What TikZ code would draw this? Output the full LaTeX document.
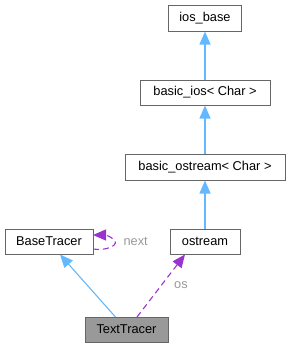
\documentclass[tikz,border=0pt]{standalone}
\usepackage{fontspec}
\setmainfont{Liberation Sans}
\usetikzlibrary{arrows.meta}
\definecolor{inh}{HTML}{63B8FF}
\definecolor{usg}{HTML}{9A32CD}
\definecolor{lbl}{HTML}{9A9A9A}
\definecolor{bord}{HTML}{666666}
\definecolor{cur}{HTML}{999999}
\begin{document}
\begin{tikzpicture}[x=1pt,y=-1pt,
  cls/.style={draw=bord,line width=1pt,fill=white,inner sep=0pt,font=\fontsize{12.8}{15}\selectfont,text=black},
  inhline/.style={draw=inh,line width=1.1pt,-{Triangle[length=13pt,width=11pt,fill=inh]}},
  useline/.style={draw=usg,line width=1.1pt,dash pattern=on 6pt off 4pt,-{Triangle[length=13pt,width=11pt,fill=usg]}},
  elabel/.style={text=lbl,font=\fontsize{12.8}{15}\selectfont}]
\useasboundingbox (0,0) rectangle (290,348);
\node[cls,minimum width=73pt,minimum height=26pt] (iosb) at (205,18) {ios\_base};
\node[cls,minimum width=130pt,minimum height=25pt] (bios) at (205,92.5) {basic\_ios< Char >};
\node[cls,minimum width=160pt,minimum height=26pt] (bost) at (205,167) {basic\_ostream< Char >};
\node[cls,minimum width=88pt,minimum height=25pt] (btr) at (49,241.5) {BaseTracer};
\node[cls,minimum width=70pt,minimum height=25pt] (ost) at (205,241.5) {ostream};
\node[cls,fill=cur,minimum width=83pt,minimum height=25pt] (ttr) at (126.5,329.5) {TextTracer};
\coordinate (t1) at (115.5,317);
\coordinate (t2) at (137,317);
\coordinate (h1) at (60,254.5);
\coordinate (h2) at (185,254.5);
\draw[inhline] (bios) -- (iosb);
\draw[inhline] (bost) -- (bios);
\draw[inhline] (ost) -- (bost);
\draw[inhline] (t1) -- (h1);
\draw[useline] (t2) -- (h2);
\node[elabel] (oslbl) at (181,285) {os};
\coordinate (l1) at (93,249);
\coordinate (l2) at (93,235);
\draw[useline] (l1) .. controls (105,251) and (118,246) .. (115,241)
  .. controls (112,237) and (106,235) .. (l2);
\node[elabel,anchor=west] (nx) at (120,241) {next};
\end{tikzpicture}
\end{document}
